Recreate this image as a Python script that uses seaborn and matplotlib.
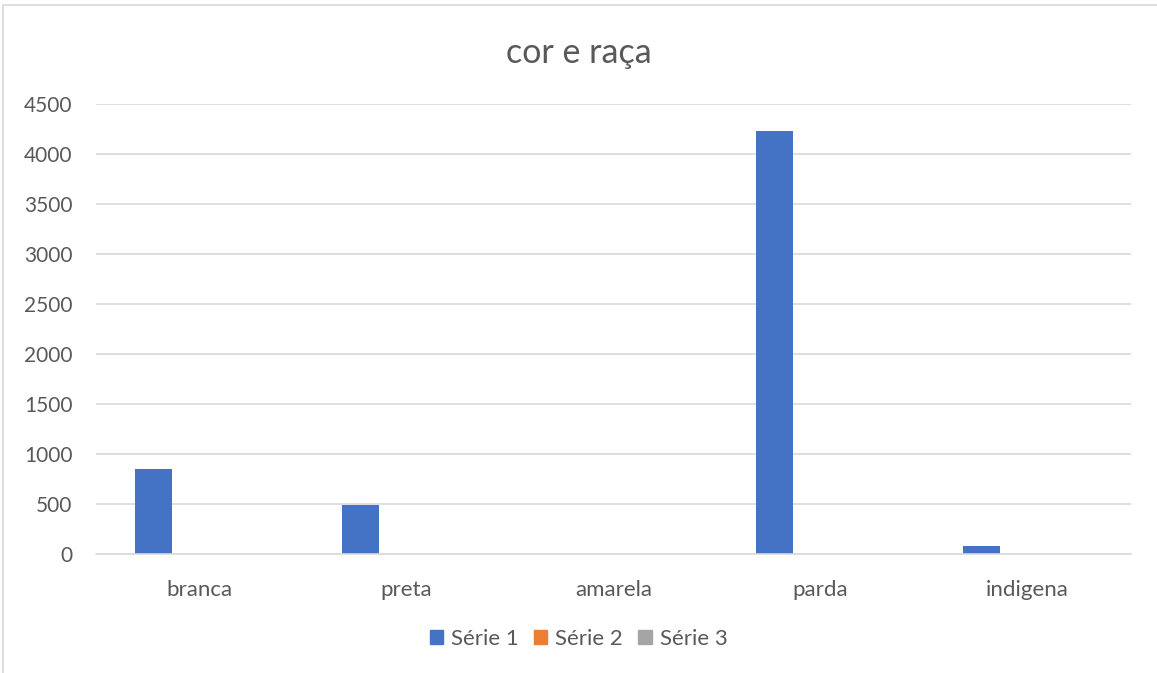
import pandas as pd
import matplotlib.pyplot as plt
import seaborn as sns

# Chart data
categorias = ['branca', 'preta', 'amarela', 'parda', 'indigena']
serie_1 = [850, 490, 0, 4227, 82]
serie_2 = [0, 0, 0, 0, 0]
serie_3 = [0, 0, 0, 0, 0]
series = ['Série 1', 'Série 2', 'Série 3']
cores = ['#4472C4', '#ED7D31', '#A5A5A5']

df = pd.DataFrame({
    'categoria': categorias * 3,
    'serie': [s for s in series for _ in categorias],
    'valor': serie_1 + serie_2 + serie_3,
})

sns.set_style('white')
plt.rcParams['font.family'] = ['Lato', 'DejaVu Sans']
texto = '#595959'
grade = '#d9d9d9'

fig = plt.figure(figsize=(11.57, 6.73), dpi=100)
ax = fig.add_axes([96 / 1157, 1 - 554 / 673, (1131 - 96) / 1157, (554 - 104) / 673])

sns.barplot(data=df, x='categoria', y='valor', hue='serie', order=categorias,
            hue_order=series, palette=cores, width=0.667, gap=0.216,
            linewidth=0, saturation=1, ax=ax)

ax.set_ylim(0, 4500)
ax.set_yticks(range(0, 4501, 500))
ax.set_xlim(-0.5, 4.5)
ax.yaxis.grid(True, color=grade, linewidth=1.2)
ax.set_axisbelow(True)
for lado in ['top', 'right', 'left']:
    ax.spines[lado].set_visible(False)
ax.spines['bottom'].set_color(grade)
ax.spines['bottom'].set_linewidth(1.2)
ax.tick_params(axis='y', length=0, labelsize=15, colors=texto, pad=17)
ax.tick_params(axis='x', length=0, labelsize=16, colors=texto, pad=19)
ax.set_xlabel('')
ax.set_ylabel('')

fig.text(0.5, 1 - 53 / 673, 'cor e raça', ha='center', va='center',
         fontsize=24.5, color=texto)

ax.legend_.remove()
handles = [plt.Rectangle((0, 0), 1, 1, color=c) for c in cores]
fig.legend(handles, series, loc='center', bbox_to_anchor=(0.5, 1 - 639 / 673),
           ncol=3, frameon=False, fontsize=16, labelcolor=texto,
           handlelength=0.6, handleheight=0.6, handletextpad=0.35,
           columnspacing=0.7)

# light chart border
borda = plt.Rectangle((3 / 1157, -0.01), 1.1, 1 - 5 / 673 + 0.01,
                      transform=fig.transFigure, fill=False,
                      edgecolor=grade, linewidth=1.2)
fig.add_artist(borda)

fig.savefig('out.png', dpi=100)
